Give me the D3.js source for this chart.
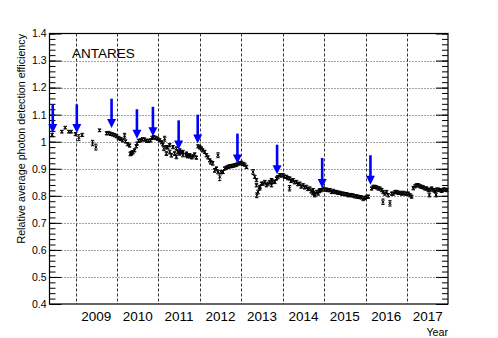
<!DOCTYPE html>
<html><head><meta charset="utf-8">
<script src="https://cdn.jsdelivr.net/npm/d3@7"></script>
<style>body{margin:0;background:#fff}svg{display:block}text{font-family:"Liberation Sans",Arial,Helvetica,sans-serif}</style>
</head><body><svg id="c" width="498" height="338"></svg>
<script>
// ---- data ----
const yearLabels = ["2009","2010","2011","2012","2013","2014","2015","2016","2017"];
const yearBoundaries = [2009,2010,2011,2012,2013,2014,2015,2016,2017];
const yTicks = [0.4,0.5,0.6,0.7,0.8,0.9,1.0,1.1,1.2,1.3,1.4];
const yTickLabels = ["0.4","0.5","0.6","0.7","0.8","0.9","1","1.1","1.2","1.3","1.4"];
const arrowYears = [2008.451,2009.031,2009.870,2010.482,2010.868,2011.489,2011.949,2012.908,2013.865,2014.953,2016.118];
const arrowTop   = [1.138,1.138,1.159,1.120,1.129,1.079,1.100,1.030,0.989,0.940,0.950];
const arrowTip   = [1.032,1.032,1.051,1.011,1.020,0.971,0.993,0.919,0.880,0.829,0.841];
// [year, relative efficiency, error]
const measurements = [
[2008.437,1.025,0.006],[2008.669,1.037,0.005],[2008.751,1.052,0.005],[2008.838,1.037,0.005],[2008.896,1.037,0.005],
[2009.000,1.028,0.006],[2009.080,1.015,0.011],[2009.162,1.025,0.006],[2009.411,0.995,0.010],[2009.491,0.980,0.011],[2009.580,1.042,0.005],
[2009.749,1.031,0.006],[2009.798,1.032,0.006],[2009.846,1.029,0.006],[2009.894,1.027,0.006],[2009.943,1.024,0.006],[2009.991,1.020,0.006],
[2010.039,1.014,0.006],[2010.088,1.010,0.006],[2010.136,1.005,0.006],[2010.184,1.022,0.009],[2010.208,1.001,0.006],[2010.257,0.991,0.006],[2010.305,0.986,0.006],
[2010.322,0.955,0.007],[2010.346,0.956,0.006],[2010.353,0.959,0.006],[2010.385,0.961,0.006],[2010.426,0.968,0.006],[2010.467,0.983,0.006],
[2010.486,0.993,0.006],[2010.523,1.003,0.006],[2010.571,1.005,0.006],[2010.619,1.009,0.006],[2010.668,1.008,0.006],[2010.716,1.003,0.006],
[2010.764,1.003,0.006],[2010.813,1.005,0.006],[2010.849,1.014,0.006],[2010.885,1.017,0.006],[2010.934,1.014,0.006],[2010.982,1.011,0.006],[2011.030,1.005,0.006],
[2011.079,0.998,0.006],[2011.110,0.990,0.006],[2011.134,0.975,0.008],[2011.151,1.011,0.009],[2011.192,0.980,0.006],[2011.192,0.956,0.007],
[2011.224,0.979,0.006],[2011.272,0.962,0.007],[2011.272,0.987,0.006],[2011.313,0.950,0.007],[2011.352,0.980,0.006],[2011.393,0.956,0.007],
[2011.434,0.944,0.007],[2011.434,0.975,0.006],[2011.472,0.962,0.006],[2011.514,0.968,0.006],[2011.514,0.956,0.006],[2011.555,0.962,0.006],
[2011.593,0.950,0.006],[2011.593,0.962,0.006],[2011.676,0.956,0.006],[2011.676,0.950,0.006],[2011.707,0.946,0.006],[2011.755,0.950,0.006],
[2011.755,0.946,0.006],[2011.804,0.942,0.006],[2011.835,0.946,0.006],[2011.876,0.953,0.006],[2011.917,0.941,0.006],
[2011.956,0.983,0.006],[2011.997,0.979,0.006],[2012.038,0.975,0.006],[2012.069,0.968,0.006],[2012.118,0.962,0.006],[2012.159,0.950,0.006],
[2012.198,0.942,0.006],[2012.239,0.931,0.006],[2012.263,0.924,0.007],[2012.311,0.920,0.007],[2012.439,0.950,0.009],
[2012.359,0.894,0.007],[2012.401,0.901,0.006],[2012.439,0.888,0.007],[2012.480,0.870,0.014],[2012.517,0.887,0.006],[2012.560,0.888,0.006],
[2012.601,0.901,0.006],[2012.642,0.904,0.006],[2012.681,0.907,0.006],[2012.722,0.909,0.006],[2012.763,0.910,0.006],[2012.802,0.911,0.006],
[2012.843,0.913,0.006],[2012.884,0.915,0.006],[2012.923,0.919,0.006],[2012.964,0.920,0.006],[2013.005,0.922,0.006],[2013.043,0.918,0.006],
[2013.085,0.915,0.006],[2013.126,0.907,0.006],
[2013.285,0.888,0.009],[2013.326,0.870,0.006],[2013.367,0.858,0.006],[2013.367,0.839,0.006],[2013.406,0.814,0.007],[2013.375,0.802,0.009],
[2013.447,0.827,0.006],[2013.447,0.833,0.006],[2013.488,0.845,0.006],[2013.527,0.845,0.006],[2013.568,0.851,0.006],[2013.609,0.839,0.006],
[2013.648,0.845,0.006],[2013.689,0.851,0.006],[2013.730,0.839,0.006],[2013.730,0.858,0.006],[2013.761,0.853,0.006],[2013.810,0.851,0.006],
[2013.851,0.864,0.006],[2013.882,0.869,0.006],[2013.930,0.876,0.006],[2013.962,0.875,0.006],[2014.010,0.876,0.006],[2014.044,0.871,0.006],[2014.092,0.870,0.006],
[2014.124,0.865,0.006],[2014.165,0.828,0.010],[2014.172,0.864,0.006],[2014.204,0.855,0.006],[2014.252,0.858,0.006],[2014.286,0.850,0.006],
[2014.334,0.851,0.006],[2014.366,0.843,0.006],[2014.414,0.845,0.006],[2014.445,0.834,0.006],[2014.494,0.839,0.006],[2014.527,0.831,0.006],
[2014.576,0.833,0.006],[2014.607,0.825,0.006],[2014.656,0.827,0.006],[2014.687,0.816,0.006],[2014.735,0.821,0.006],[2014.728,0.810,0.006],
[2014.769,0.806,0.006],[2014.776,0.802,0.006],[2014.817,0.814,0.006],[2014.856,0.808,0.006],[2014.885,0.817,0.006],
[2014.897,0.821,0.006],[2014.938,0.821,0.006],[2014.977,0.827,0.006],[2015.018,0.823,0.006],[2015.059,0.823,0.006],[2015.098,0.821,0.006],
[2015.139,0.821,0.006],[2015.180,0.814,0.006],[2015.219,0.818,0.006],[2015.260,0.814,0.006],[2015.301,0.814,0.006],[2015.339,0.811,0.006],
[2015.381,0.811,0.006],[2015.422,0.808,0.006],[2015.460,0.808,0.006],[2015.501,0.806,0.006],[2015.543,0.806,0.006],[2015.581,0.802,0.006],
[2015.622,0.803,0.006],[2015.663,0.802,0.006],[2015.702,0.801,0.006],[2015.743,0.798,0.006],[2015.784,0.798,0.006],[2015.823,0.796,0.006],
[2015.864,0.795,0.006],[2015.905,0.794,0.006],[2015.944,0.789,0.007],[2015.985,0.792,0.006],[2016.026,0.796,0.006],[2016.069,0.797,0.006],
[2016.147,0.827,0.006],[2016.185,0.833,0.006],[2016.227,0.833,0.006],[2016.268,0.831,0.006],[2016.306,0.827,0.006],[2016.347,0.827,0.006],
[2016.388,0.821,0.006],[2016.427,0.814,0.006],[2016.420,0.778,0.010],[2016.468,0.808,0.006],[2016.509,0.814,0.006],[2016.548,0.802,0.006],
[2016.589,0.772,0.010],[2016.630,0.808,0.006],[2016.669,0.808,0.006],[2016.710,0.814,0.006],[2016.751,0.814,0.006],[2016.790,0.811,0.006],
[2016.831,0.811,0.006],[2016.872,0.808,0.006],[2016.911,0.811,0.006],[2016.952,0.808,0.006],[2016.993,0.808,0.006],[2017.031,0.808,0.006],
[2017.072,0.802,0.006],[2017.113,0.797,0.006],
[2017.152,0.828,0.006],[2017.193,0.835,0.006],[2017.234,0.839,0.006],[2017.273,0.839,0.006],[2017.314,0.835,0.006],[2017.355,0.833,0.006],
[2017.394,0.831,0.006],[2017.435,0.827,0.006],[2017.476,0.827,0.006],[2017.515,0.821,0.006],[2017.540,0.803,0.007],[2017.556,0.823,0.006],
[2017.597,0.827,0.006],[2017.636,0.821,0.006],[2017.677,0.818,0.006],[2017.700,0.803,0.007],[2017.718,0.823,0.006],[2017.756,0.823,0.006],
[2017.798,0.821,0.006],[2017.839,0.818,0.006],[2017.877,0.823,0.006],[2017.918,0.823,0.006],[2017.959,0.821,0.006]
];

// ---- layout ----
const L = 49.5, R = 448, T = 33.5, B = 304;
const svg = d3.select("#c");
const x = d3.scaleLinear().domain([2008.372, 2017.99]).range([L, R]);
const y = d3.scaleLinear().domain([0.4, 1.4]).range([B, T]);
const crisp = v => Math.round(v) + 0.5;

// gridlines
svg.append("g").selectAll("line").data(yTicks.slice(1, -1)).join("line")
  .attr("x1", L).attr("x2", R).attr("y1", d => crisp(y(d))).attr("y2", d => crisp(y(d)))
  .attr("stroke", "#444").attr("stroke-width", 1).attr("stroke-dasharray", "1,2");
svg.append("g").selectAll("line").data(yearBoundaries).join("line")
  .attr("x1", d => crisp(x(d))).attr("x2", d => crisp(x(d))).attr("y1", T).attr("y2", B)
  .attr("stroke", "#333").attr("stroke-width", 1).attr("stroke-dasharray", "3,2");

// axes ticks
const minor = d3.range(0, 51).map(i => 0.4 + i * 0.02);
const leftMinor = d3.axisLeft(y).tickValues(minor).tickSizeInner(-6).tickSizeOuter(0).tickFormat("");
const leftMajor = d3.axisLeft(y).tickValues(yTicks).tickSizeInner(-12).tickSizeOuter(0).tickPadding(3)
  .tickFormat((d, i) => yTickLabels[i]);
const rightMinor = d3.axisRight(y).tickValues(minor).tickSizeInner(-6).tickSizeOuter(0).tickFormat("");
const rightMajor = d3.axisRight(y).tickValues(yTicks).tickSizeInner(-12).tickSizeOuter(0).tickFormat("");
function styleAxis(g) {
  g.select(".domain").remove();
  g.selectAll(".tick line").attr("stroke", "#000").attr("stroke-width", 1);
  g.selectAll("text").attr("font-size", 10.5).attr("fill", "#000")
    .attr("font-family", '"Liberation Sans",Arial,sans-serif');
}
svg.append("g").attr("transform", `translate(${L},0)`).call(leftMinor).call(styleAxis);
svg.append("g").attr("transform", `translate(${L},0)`).call(leftMajor).call(styleAxis);
svg.append("g").attr("transform", `translate(${R},0)`).call(rightMinor).call(styleAxis);
svg.append("g").attr("transform", `translate(${R},0)`).call(rightMajor).call(styleAxis);

// year labels (centered inside each year)
svg.append("g").selectAll("text").data(yearBoundaries).join("text")
  .attr("x", d => x(d + 0.5)).attr("y", 321).attr("text-anchor", "middle")
  .attr("font-size", 13.5).attr("fill", "#000").text((d, i) => yearLabels[i]);

// frame
svg.append("rect").attr("x", L).attr("y", T).attr("width", R - L).attr("height", B - T)
  .attr("fill", "none").attr("stroke", "#000").attr("stroke-width", 1.2);

// data points (small x markers + error bars with caps)
const pts = svg.append("g").attr("stroke", "#000").attr("stroke-width", 1);
measurements.forEach(([yr, v, e]) => {
  const cx = x(yr), cy = y(v), y1 = y(v + e), y2 = y(v - e);
  pts.append("line").attr("x1", cx).attr("x2", cx).attr("y1", y1).attr("y2", y2);
  pts.append("line").attr("x1", cx - 1.6).attr("x2", cx + 1.6).attr("y1", y1).attr("y2", y1);
  pts.append("line").attr("x1", cx - 1.6).attr("x2", cx + 1.6).attr("y1", y2).attr("y2", y2);
  pts.append("path").attr("d", `M${cx - 1.5},${cy - 1.5}L${cx + 1.5},${cy + 1.5}M${cx - 1.5},${cy + 1.5}L${cx + 1.5},${cy - 1.5}`);
});

// arrows
const ag = svg.append("g");
arrowYears.forEach((yr, i) => {
  const ax = x(yr), y0 = y(arrowTop[i]), y1 = y(arrowTip[i]);
  ag.append("line").attr("x1", ax).attr("x2", ax).attr("y1", y0).attr("y2", y1 - 7)
    .attr("stroke", "#0000ff").attr("stroke-width", 2.6);
  ag.append("path").attr("d", `M${ax - 4.5},${y1 - 9} L${ax + 4.5},${y1 - 9} L${ax},${y1} Z`)
    .attr("fill", "#0000ff");
});

// texts
svg.append("text").attr("x", 72).attr("y", 58).attr("font-size", 13.5).attr("fill", "#000").text("ANTARES");
svg.append("text").attr("transform", "translate(25,34) rotate(-90)").attr("text-anchor", "end")
  .attr("font-size", 10.7).attr("fill", "#000").text("Relative average photon detection efficiency");
svg.append("text").attr("x", 448).attr("y", 336).attr("text-anchor", "end")
  .attr("font-size", 10.7).attr("fill", "#000").text("Year");
</script>
</body></html>
